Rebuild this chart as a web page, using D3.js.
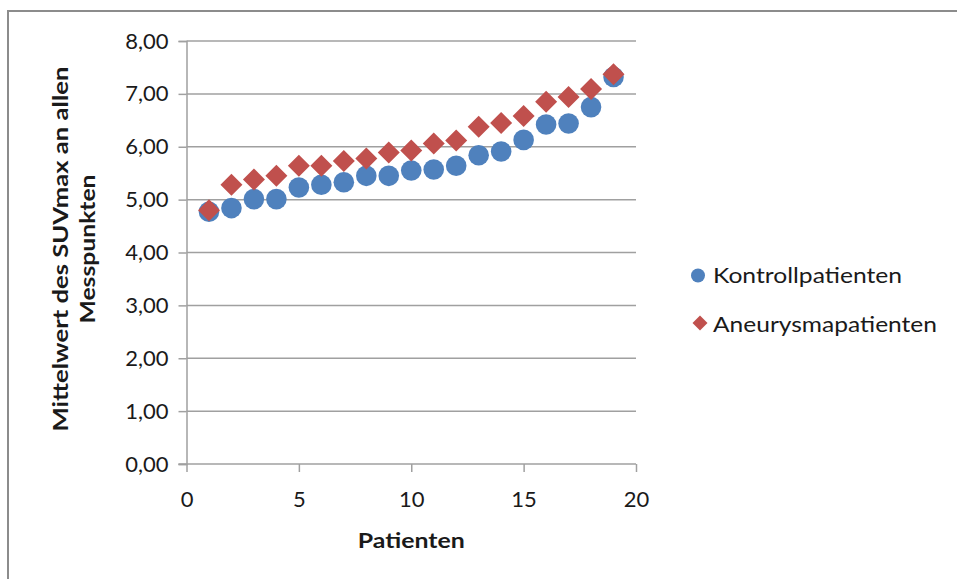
<!DOCTYPE html>
<html>
<head>
<meta charset="utf-8">
<script src="https://cdn.jsdelivr.net/npm/d3@7"></script>
<style>
  html, body { margin: 0; padding: 0; background: #fff; }
  svg { display: block; }
  text { font-family: Lato, "Liberation Sans", sans-serif; fill: #1a1a1a; }
</style>
</head>
<body>
<svg id="chart" width="957" height="579"></svg>
<script>
// ---- data ----
const patients = [1,2,3,4,5,6,7,8,9,10,11,12,13,14,15,16,17,18,19];
const kontroll = [4.77,4.84,5.01,5.01,5.23,5.28,5.33,5.45,5.45,5.55,5.57,5.64,5.84,5.91,6.13,6.42,6.44,6.75,7.32];
const aneurysma = [4.80,5.28,5.38,5.45,5.64,5.64,5.73,5.78,5.89,5.93,6.06,6.12,6.38,6.45,6.58,6.85,6.94,7.09,7.37];
const seriesNames = ["Kontrollpatienten", "Aneurysmapatienten"];
const xTicks = [0,5,10,15,20];
const yTicks = [0,1,2,3,4,5,6,7,8];
const xTitle = "Patienten";
const yTitleLines = ["Mittelwert des SUVmax an allen", "Messpunkten"];

const blue = "#4F81BD", red = "#C0504D", grid = "#a0a0a0";

const svg = d3.select("#chart");

// outer border
svg.append("rect").attr("x", 8).attr("y", 11).attr("width", 1200).attr("height", 1200)
  .attr("fill", "none").attr("stroke", "#8c8c8c").attr("stroke-width", 2);

const x = d3.scaleLinear().domain([0, 20]).range([186.5, 636]);
const y = d3.scaleLinear().domain([0, 8]).range([464, 41]);

// gridlines
svg.append("g").selectAll("line").data(yTicks.filter(d => d > 0)).join("line")
  .attr("x1", x(0)).attr("x2", x(20))
  .attr("y1", d => y(d)).attr("y2", d => y(d))
  .attr("stroke", grid).attr("stroke-width", 1.5);

// y axis
const yAxis = d3.axisLeft(y).tickValues(yTicks).tickSize(8).tickPadding(10)
  .tickFormat(d => d3.format(".2f")(d).replace(".", ","));
const gy = svg.append("g").attr("transform", `translate(${x(0)},0)`).call(yAxis);
gy.select(".domain").attr("stroke", grid).attr("stroke-width", 1.5);
gy.selectAll(".tick line").attr("stroke", grid).attr("stroke-width", 1.5);
gy.selectAll(".tick text").style("font-size", "22px").attr("fill", "#1a1a1a")
  .style("font-family", "Lato, 'Liberation Sans', sans-serif");

// x axis
const xAxis = d3.axisBottom(x).tickValues(xTicks).tickSize(8).tickPadding(19);
const gx = svg.append("g").attr("transform", `translate(0,${y(0)})`).call(xAxis);
gx.select(".domain").attr("stroke", grid).attr("stroke-width", 1.5)
  .attr("d", `M${x(0)-8},0H${x(20)}`);
gx.selectAll(".tick line").attr("stroke", grid).attr("stroke-width", 1.5);
gx.selectAll(".tick text").style("font-size", "22px").attr("fill", "#1a1a1a")
  .style("font-family", "Lato, 'Liberation Sans', sans-serif");

// titles
svg.append("text").attr("x", (x(0)+x(20))/2).attr("y", 548)
  .attr("text-anchor", "middle").style("font-size", "21px").style("font-weight", "bold")
  .attr("textLength", 107).attr("lengthAdjust", "spacingAndGlyphs")
  .text(xTitle);

const yLens = [365, 149];
const yBase = [68, 95];
yTitleLines.forEach((t, i) => {
  svg.append("text")
    .attr("transform", `translate(${yBase[i]},249) rotate(-90)`)
    .attr("text-anchor", "middle").style("font-size", "20px").style("font-weight", "bold")
    .attr("textLength", yLens[i]).attr("lengthAdjust", "spacingAndGlyphs")
    .text(t);
});

// markers
const diamond = (cx, cy, r) => `M${cx},${cy-r}L${cx+r},${cy}L${cx},${cy+r}L${cx-r},${cy}Z`;

svg.append("g").selectAll("circle").data(patients).join("circle")
  .attr("cx", (d) => x(d)).attr("cy", (d, i) => y(kontroll[i])).attr("r", 10.3)
  .attr("fill", blue);

svg.append("g").selectAll("path").data(patients).join("path")
  .attr("d", (d, i) => diamond(x(d), y(aneurysma[i]), 11))
  .attr("fill", red);

// legend
const lg = svg.append("g");
lg.append("circle").attr("cx", 698).attr("cy", 275.5).attr("r", 7).attr("fill", blue);
lg.append("path").attr("d", diamond(700, 323, 7.5)).attr("fill", red);
lg.append("text").attr("x", 713).attr("y", 283).style("font-size", "21px")
  .attr("textLength", 189).attr("lengthAdjust", "spacingAndGlyphs").text(seriesNames[0]);
lg.append("text").attr("x", 713).attr("y", 331.5).style("font-size", "21px")
  .attr("textLength", 224).attr("lengthAdjust", "spacingAndGlyphs").text(seriesNames[1]);
</script>
</body>
</html>
